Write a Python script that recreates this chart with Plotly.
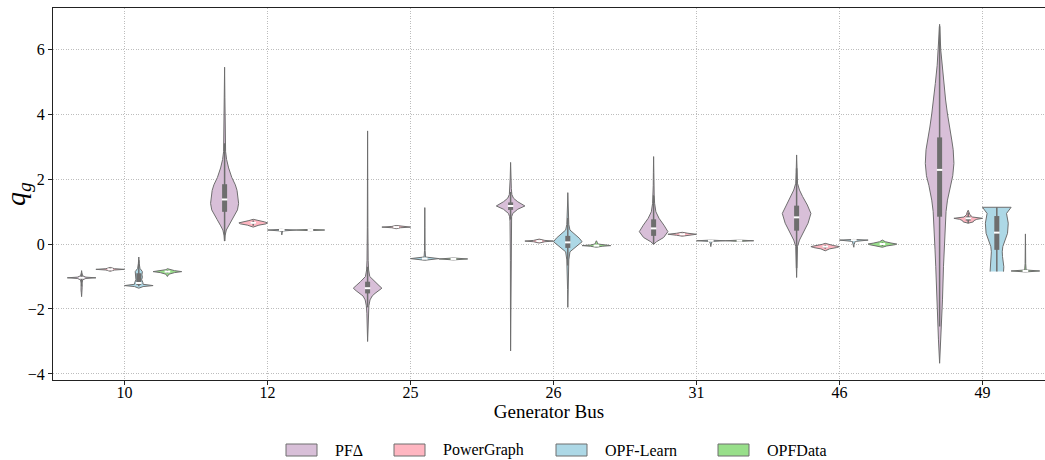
import plotly.graph_objects as go

BUSES = ["10", "12", "25", "26", "31", "46", "49"]
SOURCES = ["PFΔ", "PowerGraph", "OPF-Learn", "OPFData"]

# Density profiles: levels (q_g) and relative density (1 = widest point)
PFD_Y = [
    [-1.62, -1.50, -1.42, -1.38, -1.33, -1.20, -1.10, -1.06, -1.04, -1.02, -0.98, -0.92, -0.82],
    [0.09, 0.25, 0.43, 0.58, 0.75, 0.89, 1.05, 1.25, 1.45, 1.65, 1.82, 2.05, 2.34, 2.6, 2.84, 3.5, 4.5, 5.44],
    [-3.0, -2.6, -2.13, -1.9, -1.72, -1.6, -1.52, -1.44, -1.36, -1.28, -1.16, -1.07, -1.0, -0.8, -0.5, 0.5, 2.0, 3.48],
    [-3.29, -2.0, -0.5, 0.4, 0.7, 0.84, 0.94, 1.07, 1.17, 1.3, 1.41, 1.52, 1.7, 2.0, 2.51],
    [-0.01, 0.07, 0.2, 0.38, 0.58, 0.79, 0.99, 1.25, 1.5, 1.8, 2.2, 2.69],
    [-1.03, -0.49, -0.08, 0.12, 0.33, 0.64, 0.94, 1.2, 1.46, 1.66, 1.87, 2.2, 2.74],
    [-3.67, -2.95, -2.3, -1.72, -0.7, -0.18, 0.5, 1.0, 1.35, 1.8, 2.1, 2.48, 2.9, 3.2, 3.6, 4.0, 4.43, 4.94, 5.5, 5.97, 6.76],
]
PFD_D = [
    [0, 0.02, 0.04, 0.07, 0.04, 0.03, 0.08, 0.3, 1.0, 0.3, 0.08, 0.03, 0],
    [0, 0.03, 0.12, 0.3, 0.52, 0.72, 0.9, 0.98, 0.95, 0.87, 0.75, 0.5, 0.28, 0.14, 0.07, 0.035, 0.02, 0],
    [0, 0.02, 0.05, 0.09, 0.17, 0.32, 0.52, 0.8, 1.0, 0.8, 0.5, 0.28, 0.15, 0.07, 0.04, 0.02, 0.01, 0],
    [0, 0.01, 0.015, 0.025, 0.04, 0.07, 0.15, 0.5, 1.0, 0.5, 0.2, 0.09, 0.05, 0.03, 0],
    [0, 0.2, 0.7, 1.0, 0.72, 0.38, 0.16, 0.07, 0.04, 0.025, 0.015, 0],
    [0, 0.03, 0.06, 0.2, 0.45, 0.8, 1.0, 0.75, 0.42, 0.2, 0.06, 0.03, 0],
    [0, 0.08, 0.14, 0.2, 0.27, 0.32, 0.38, 0.45, 0.55, 0.75, 0.92, 1.0, 0.95, 0.85, 0.68, 0.55, 0.42, 0.3, 0.17, 0.08, 0],
]
# (lower whisker, q1, median, q3, upper whisker)
PFD_STATS = [
    (-1.3, -1.07, -1.04, -1.0, -0.9),
    (0.09, 0.99, 1.37, 1.84, 3.1),
    (-1.95, -1.52, -1.36, -1.16, -0.7),
    (0.75, 1.05, 1.17, 1.28, 1.6),
    (-0.01, 0.25, 0.48, 0.76, 1.5),
    (-0.74, 0.41, 0.82, 1.18, 2.33),
    (-2.54, 0.84, 2.28, 3.28, 6.7),
]

PG_Y = [
    [-0.84, -0.80, -0.78, -0.76, -0.72],
    [0.52, 0.58, 0.62, 0.65, 0.68, 0.72, 0.76],
    [0.47, 0.50, 0.52, 0.54, 0.57],
    [0.03, 0.07, 0.09, 0.11, 0.15],
    [0.24, 0.27, 0.30, 0.33, 0.36],
    [-0.21, -0.15, -0.11, -0.08, -0.05, -0.01, 0.02],
    [0.64, 0.68, 0.72, 0.76, 0.79, 0.83, 0.90, 0.97, 1.04],
]
PG_D = [
    [0, 0.3, 1, 0.3, 0],
    [0, 0.4, 0.9, 1.0, 0.8, 0.3, 0],
    [0, 0.3, 1, 0.3, 0],
    [0, 0.4, 1, 0.4, 0],
    [0, 0.4, 1, 0.4, 0],
    [0, 0.3, 0.8, 1, 0.6, 0.2, 0],
    [0, 0.35, 0.4, 0.6, 1.0, 0.3, 0.12, 0.08, 0],
]
PG_STATS = [
    (-0.82, -0.79, -0.78, -0.77, -0.74),
    (0.56, 0.62, 0.65, 0.68, 0.72),
    (0.50, 0.51, 0.52, 0.53, 0.54),
    (0.06, 0.08, 0.09, 0.10, 0.12),
    (0.27, 0.29, 0.30, 0.31, 0.33),
    (-0.15, -0.11, -0.08, -0.06, -0.02),
    (0.64, 0.72, 0.79, 0.85, 0.97),
]

OL_Y = [
    [-1.36, -1.31, -1.28, -1.24, -1.18, -1.10, -1.02, -0.95, -0.85, -0.75, -0.60, -0.40],
    [0.28, 0.35, 0.40, 0.43, 0.45, 0.47],
    [-0.50, -0.45, -0.40, -0.20, 0.50, 1.12],
    [-1.95, -1.4, -0.9, -0.49, -0.24, -0.08, 0.07, 0.18, 0.28, 0.43, 0.6, 0.84, 1.2, 1.58],
    [-0.08, 0.0, 0.08, 0.10, 0.12],
    [-0.10, -0.02, 0.08, 0.12, 0.14],
    [-0.85, -0.70, -0.39, -0.24, -0.08, 0.33, 0.64, 0.94, 1.13],
]
OL_D = [
    [0, 0.3, 1.0, 0.3, 0.28, 0.2, 0.25, 0.22, 0.25, 0.08, 0.03, 0],
    [0, 0.02, 0.05, 1, 0.05, 0],
    [0, 1, 0.05, 0.02, 0.01, 0],
    [0, 0.015, 0.03, 0.07, 0.15, 0.6, 1.0, 0.8, 0.55, 0.15, 0.07, 0.04, 0.02, 0],
    [0, 0.02, 0.1, 1, 0],
    [0, 0.02, 0.1, 1, 0],
    [0.47, 0.49, 0.4, 0.38, 0.42, 0.75, 0.8, 0.68, 1.0],
]
OL_STATS = [
    (-1.30, -1.26, -1.20, -0.90, -0.50),
    (0.40, 0.42, 0.43, 0.44, 0.45),
    (-0.47, -0.46, -0.45, -0.44, -0.42),
    (-0.66, -0.12, 0.05, 0.25, 0.80),
    (0.07, 0.09, 0.10, 0.11, 0.12),
    (0.09, 0.11, 0.12, 0.13, 0.14),
    (-0.85, -0.18, 0.35, 0.86, 1.13),
]

OD_Y = [
    [-1.0, -0.93, -0.88, -0.85, -0.82, -0.79, -0.76],
    [0.41, 0.43, 0.45],
    [-0.49, -0.46, -0.43],
    [-0.10, -0.07, -0.05, -0.03, 0.0, 0.05, 0.10],
    [0.08, 0.10, 0.12],
    [-0.10, -0.06, -0.02, 0.0, 0.03, 0.07, 0.12],
    [-0.86, -0.83, -0.80, -0.60, 0.0, 0.31],
]
OD_D = [
    [0, 0.1, 0.5, 1, 0.5, 0.1, 0],
    [0, 1, 0],
    [0, 1, 0],
    [0, 0.4, 1, 0.4, 0.1, 0.06, 0],
    [0, 1, 0],
    [0, 0.3, 0.9, 1, 0.6, 0.2, 0],
    [0, 1, 0.05, 0.02, 0.01, 0],
]
OD_STATS = [
    (-0.90, -0.87, -0.85, -0.84, -0.80),
    (0.42, 0.425, 0.43, 0.435, 0.44),
    (-0.47, -0.465, -0.46, -0.455, -0.45),
    (-0.08, -0.06, -0.05, -0.04, -0.02),
    (0.09, 0.095, 0.10, 0.105, 0.11),
    (-0.06, -0.02, 0.0, 0.02, 0.05),
    (-0.84, -0.835, -0.83, -0.825, -0.82),
]

PROFILES_Y = [PFD_Y, PG_Y, OL_Y, OD_Y]
PROFILES_D = [PFD_D, PG_D, OL_D, OD_D]
STATS = [PFD_STATS, PG_STATS, OL_STATS, OD_STATS]

COLORS = ["#d8bfd8", "#ffb6c1", "#add8e6", "#98df8a"]
EDGE = "#6e6e6e"
OFFSETS = [-0.3, -0.1, 0.1, 0.3]
HALF_W = 0.1
FONT = "Liberation Serif, Times New Roman, serif"

W, H = 1045, 460
ML, MR, MT, MB = 53, 0, 8, 80
PW, PH = W - ML - MR, H - MT - MB

fig = go.Figure()

for h, name in enumerate(SOURCES):
    xs, ys = [], []
    wx, wy, bx, by, mx, my = [], [], [], [], [], []
    for b in range(len(BUSES)):
        pos = b + OFFSETS[h]
        Y = PROFILES_Y[h][b]
        D = PROFILES_D[h][b]
        xs += [pos + d * HALF_W for d in D] + [pos - d * HALF_W for d in reversed(D)] + [None]
        ys += list(Y) + list(reversed(Y)) + [None]
        lo, q1, med, q3, hi = STATS[h][b]
        wx += [pos, pos, None]
        wy += [lo, hi, None]
        bx += [pos, pos, None]
        by += [q1, q3, None]
        mx.append(pos)
        my.append(med)
    fig.add_trace(go.Scatter(
        x=xs, y=ys, mode="lines", fill="toself", fillcolor=COLORS[h],
        line=dict(color=EDGE, width=1), name=name, showlegend=False,
        hoverinfo="skip",
    ))
    fig.add_trace(go.Scatter(x=wx, y=wy, mode="lines", line=dict(color=EDGE, width=1.5),
                             showlegend=False, hoverinfo="skip"))
    fig.add_trace(go.Scatter(x=bx, y=by, mode="lines", line=dict(color=EDGE, width=5),
                             showlegend=False, hoverinfo="skip"))
    fig.add_trace(go.Scatter(x=mx, y=my, mode="markers",
                             marker=dict(symbol="line-ew", size=4, line=dict(color="white", width=2)),
                             showlegend=False, hoverinfo="skip"))

# Manual legend (rectangular patches like the reference), positions in pixels
LEG_BOX_X = [286, 394, 556, 718]
LEG_TEXT_X = [333, 441, 603, 765]
LEG_Y0, LEG_Y1, LEG_YC = 444, 456, 450


def px_x(px):
    return (px - ML) / PW


def px_y(py):
    return (H - MB - py) / PH


shapes = []
annotations = []
for h, name in enumerate(SOURCES):
    shapes.append(dict(type="rect", xref="paper", yref="paper",
                       x0=px_x(LEG_BOX_X[h]), x1=px_x(LEG_BOX_X[h] + 31),
                       y0=px_y(LEG_Y1), y1=px_y(LEG_Y0),
                       fillcolor=COLORS[h], line=dict(color=EDGE, width=1)))
    annotations.append(dict(xref="paper", yref="paper", x=px_x(LEG_TEXT_X[h]), y=px_y(LEG_YC),
                            xanchor="left", yanchor="middle", text=name, showarrow=False,
                            font=dict(family=FONT, size=16, color="black")))

fig.update_layout(
    width=W, height=H,
    margin=dict(l=ML, r=MR, t=MT, b=MB, autoexpand=False),
    plot_bgcolor="white", paper_bgcolor="white",
    font=dict(family=FONT, size=16, color="black"),
    showlegend=False,
    shapes=shapes,
    annotations=annotations,
    xaxis=dict(
        range=[-0.5, 6.437], tickmode="array", tickvals=list(range(len(BUSES))), ticktext=BUSES,
        showgrid=True, gridcolor="#bdbdbd", griddash="1px,1.5px", gridwidth=1,
        showline=True, linecolor="#222", linewidth=1.2, mirror=True,
        ticks="outside", ticklen=4, tickcolor="#222", zeroline=False, automargin=False,
        ticklabelstandoff=-6,
        title=dict(text="Generator Bus", font=dict(size=19), standoff=0),
        tickfont=dict(size=16),
    ),
    yaxis=dict(
        range=[-4.185, 7.262], tickvals=[-4, -2, 0, 2, 4, 6], ticktext=["−4", "−2", "0", "2", "4", "6"],
        showgrid=True, gridcolor="#bdbdbd", griddash="1px,1.5px", gridwidth=1,
        showline=True, linecolor="#222", linewidth=1.2,
        ticks="outside", ticklen=4, tickcolor="#222", zeroline=False, automargin=False,
        title=dict(text="<i>q</i><sub><i>g</i></sub>", font=dict(size=28), standoff=10),
        tickfont=dict(size=16),
    ),
)

fig.write_html("out.html", config={"displayModeBar": False},
               post_script="document.body.style.margin='0';document.body.style.overflow='hidden';")
